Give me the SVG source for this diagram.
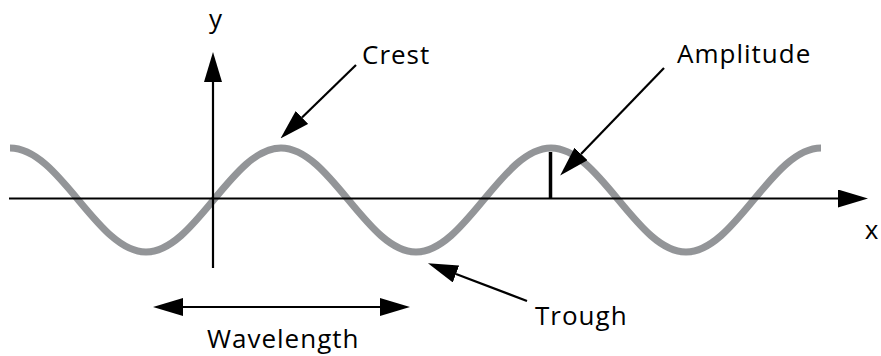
<svg xmlns="http://www.w3.org/2000/svg" width="881" height="356" viewBox="0 0 881 356">
<style>
.ax{stroke:#000;stroke-width:2.2;fill:none}
.lbl{font-family:"Open Sans","Noto Sans",sans-serif;font-size:26px;letter-spacing:1px;fill:#000}
.wave{stroke:#939598;stroke-width:7;fill:none}
</style>
<defs>
<marker id="ah" markerUnits="userSpaceOnUse" markerWidth="30" markerHeight="18" refX="0" refY="9" orient="auto-start-reverse" viewBox="0 0 30 18">
<path d="M0,0 L30,9 L0,18 z" fill="#000"/>
</marker>
</defs>
<rect width="881" height="356" fill="#fff"/>
<g id="wave">
<path class="wave" d="M10,148 C60.06,148 96.94,252 146,252 S231.94,148 281,148 S366.94,252 416,252 S501.94,148 551,148 S636.94,252 686,252 S771.94,148 821,148"/>
</g>
<g id="axes">
<line class="ax" x1="9" y1="198.5" x2="838" y2="198.5" marker-end="url(#ah)"/>
<line class="ax" x1="213" y1="268" x2="213" y2="82" marker-end="url(#ah)"/>
</g>
<g id="amplitude-tick">
<line x1="550.5" y1="152" x2="550.5" y2="199" stroke="#000" stroke-width="3.5"/>
</g>
<g id="connectors">
<line class="ax" x1="356" y1="65" x2="302" y2="117.5" marker-end="url(#ah)"/>
<line class="ax" x1="664" y1="68" x2="581" y2="154" marker-end="url(#ah)"/>
<line class="ax" x1="527" y1="301" x2="456" y2="274" marker-end="url(#ah)"/>
<line class="ax" x1="183" y1="307" x2="380" y2="307" marker-start="url(#ah)" marker-end="url(#ah)"/>
</g>
<g id="labels">
<text class="lbl" x="216" y="28" text-anchor="middle">y</text>
<text class="lbl" x="872" y="239" text-anchor="middle">x</text>
<text class="lbl" x="362" y="64">Crest</text>
<text class="lbl" x="677" y="63">Amplitude</text>
<text class="lbl" x="535" y="325">Trough</text>
<text class="lbl" x="207" y="348">Wavelength</text>
</g>
</svg>
